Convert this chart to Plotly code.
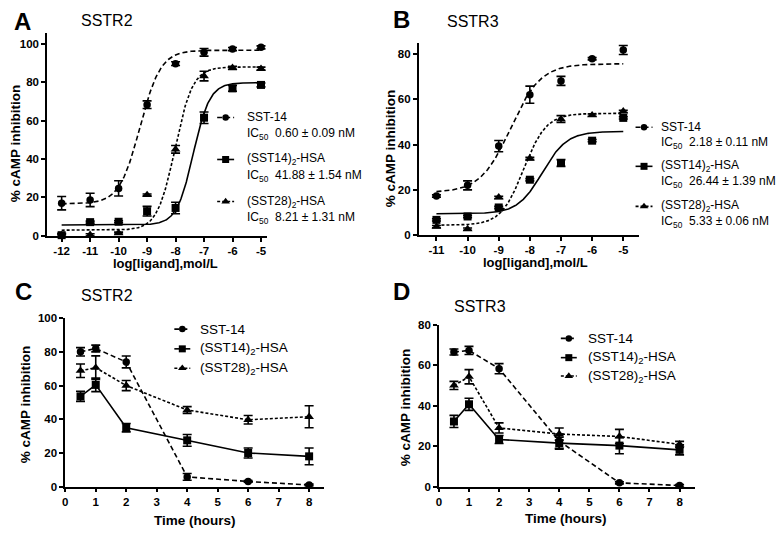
import numpy as np
import plotly.graph_objects as go

W, H = 778, 536
FONT = "Liberation Sans"

# ------------------------------------------------------------------ data
series_names = ["SST-14", "(SST14)<sub>2</sub>-HSA", "(SST28)<sub>2</sub>-HSA"]
ic50_A = ["0.60 ± 0.09 nM", "41.88 ± 1.54 nM", "8.21 ± 1.31 nM"]
ic50_B = ["2.18 ± 0.11 nM", "26.44 ± 1.39 nM", "5.33 ± 0.06 nM"]

# Panel A  (SSTR2, dose response)
logA = [-12, -11, -10, -9, -8, -7, -6, -5]
A_sst14 = [17.0, 18.7, 24.7, 68.4, 89.8, 95.7, 97.4, 98.3]
A_sst14_err = [3.5, 3.5, 4.0, 2.0, 1.0, 2.0, 0.8, 0.8]
A_sst14hsa = [0.3, 7.1, 7.3, 12.8, 14.5, 61.6, 76.9, 78.7]
A_sst14hsa_err = [1.0, 0.5, 0.5, 2.5, 3.0, 3.0, 1.5, 1.0]
A_sst28hsa = [0.2, 0.5, 1.4, 21.3, 45.1, 83.3, 87.6, 87.2]
A_sst28hsa_err = [0.5, 0.5, 0.5, 0.5, 2.0, 2.5, 0.8, 0.8]
# fitted curves: bottom, top, logIC50, hill slope
A_sst14_fit = [16.6, 96.8, -9.25, 1.2]
A_sst14hsa_fit = [5.6, 79.9, -7.38, 1.5]
A_sst28hsa_fit = [2.9, 88.1, -8.02, 1.4]

# Panel B  (SSTR3, dose response)
logB = [-11, -10, -9, -8, -7, -6, -5]
B_sst14 = [17.2, 21.9, 39.3, 62.1, 68.2, 78.0, 81.9]
B_sst14_err = [0.5, 2.0, 2.5, 3.8, 2.0, 0.5, 2.0]
B_sst14hsa = [6.6, 8.1, 12.1, 24.4, 31.8, 41.7, 51.8]
B_sst14hsa_err = [0.5, 0.5, 0.5, 0.5, 1.5, 0.5, 0.5]
B_sst28hsa = [3.6, 2.5, 16.6, 33.8, 51.3, 53.0, 54.7]
B_sst28hsa_err = [0.5, 0.5, 0.5, 0.5, 1.5, 0.5, 0.5]
B_sst14_fit = [18.7, 75.8, -8.62, 0.9]
B_sst14hsa_fit = [9.3, 45.8, -7.60, 1.1]
B_sst28hsa_fit = [4.2, 53.8, -8.20, 1.2]

# Panels C / D (time course)
hours = [0.5, 1, 2, 4, 6, 8]
C_sst14 = [80.0, 82.0, 74.0, 5.8, 3.1, 1.0]
C_sst14_err = [2.5, 2.0, 3.5, 2.0, 0.5, 0.5]
C_sst14hsa = [53.6, 60.4, 35.0, 27.5, 20.0, 18.0]
C_sst14hsa_err = [3.0, 4.0, 2.5, 3.5, 3.0, 5.0]
C_sst28hsa = [68.8, 70.6, 60.0, 45.5, 39.7, 41.5]
C_sst28hsa_err = [4.0, 7.0, 3.0, 2.0, 2.5, 6.5]

D_sst14 = [66.5, 67.3, 58.3, 22.5, 1.9, 0.6]
D_sst14_err = [1.5, 2.0, 2.5, 3.5, 0.5, 0.5]
D_sst14hsa = [32.2, 40.7, 23.3, 21.5, 20.3, 18.2]
D_sst14hsa_err = [3.0, 3.0, 2.0, 3.0, 4.0, 2.5]
D_sst28hsa = [50.0, 54.3, 29.0, 26.0, 24.8, 20.9]
D_sst28hsa_err = [2.0, 3.5, 2.5, 3.0, 3.5, 1.5]

xtickA = [-12, -11, -10, -9, -8, -7, -6, -5]
xtickA_text = ["-12", "-11", "-10", "-9", "-8", "-7", "-6", "-5"]
xtickB = [-11, -10, -9, -8, -7, -6, -5]
xtickB_text = ["-11", "-10", "-9", "-8", "-7", "-6", "-5"]
xtickT = [0, 1, 2, 3, 4, 5, 6, 7, 8]
ytick100 = [0, 20, 40, 60, 80, 100]
ytick80 = [0, 20, 40, 60, 80]

# ------------------------------------------------------------------ styles
symbols = ["circle", "square", "triangle-up"]
msizes = [7.5, 8, 8.5]
dashes = ["5px,3px", "solid", "3px,2px"]
LW = 1.6


def px(x):
    return x / W


def py(y):
    return 1 - y / H


def logistic(x, p):
    b, t, m, h = p
    return b + (t - b) / (1 + 10 ** (h * (m - x)))


fig = go.Figure()

err_style = dict(type="data", color="black", thickness=1.6, width=4.5)


def add_points(x, y, err, i, xa, ya, mode="markers"):
    tr = dict(
        x=x, y=y, mode=mode, xaxis=xa, yaxis=ya, showlegend=False,
        marker=dict(symbol=symbols[i], size=msizes[i], color="black"),
        error_y=dict(array=err, **err_style), cliponaxis=False,
    )
    if "lines" in mode:
        tr["line"] = dict(color="black", width=LW, dash=dashes[i])
    fig.add_trace(go.Scatter(**tr))


def add_curve(xs, p, i, xa, ya):
    ys = logistic(xs, p)
    fig.add_trace(go.Scatter(x=xs, y=ys, mode="lines", xaxis=xa, yaxis=ya,
                             showlegend=False, hoverinfo="skip",
                             line=dict(color="black", width=LW, dash=dashes[i])))


# Panel A
xsA = np.linspace(min(logA), max(logA), 300)
for i, (d, e, f) in enumerate([(A_sst14, A_sst14_err, A_sst14_fit),
                               (A_sst14hsa, A_sst14hsa_err, A_sst14hsa_fit),
                               (A_sst28hsa, A_sst28hsa_err, A_sst28hsa_fit)]):
    add_curve(xsA, f, i, "x", "y")
    add_points(logA, d, e, i, "x", "y")

# Panel B
xsB = np.linspace(min(logB), max(logB), 300)
for i, (d, e, f) in enumerate([(B_sst14, B_sst14_err, B_sst14_fit),
                               (B_sst14hsa, B_sst14hsa_err, B_sst14hsa_fit),
                               (B_sst28hsa, B_sst28hsa_err, B_sst28hsa_fit)]):
    add_curve(xsB, f, i, "x2", "y2")
    add_points(logB, d, e, i, "x2", "y2")

# Panel C
for i, (d, e) in enumerate([(C_sst14, C_sst14_err), (C_sst14hsa, C_sst14hsa_err), (C_sst28hsa, C_sst28hsa_err)]):
    add_points(hours, d, e, i, "x3", "y3", mode="lines+markers")

# Panel D
for i, (d, e) in enumerate([(D_sst14, D_sst14_err), (D_sst14hsa, D_sst14hsa_err), (D_sst28hsa, D_sst28hsa_err)]):
    add_points(hours, d, e, i, "x4", "y4", mode="lines+markers")

# ------------------------------------------------------------------ legends (overlay pixel axis)
annotations = []


def text(x, y, s, size=12, bold=False, xanchor="left", yanchor="middle", angle=0):
    annotations.append(dict(
        x=px(x), y=py(y), xref="paper", yref="paper", text=s, showarrow=False,
        xanchor=xanchor, yanchor=yanchor, textangle=angle,
        font=dict(family=FONT, size=size, color="black", weight="bold" if bold else "normal")))


def legend_key(x0, x1, y, i):
    fig.add_trace(go.Scatter(x=[x0, x1], y=[y, y], mode="lines", xaxis="x5", yaxis="y5",
                             showlegend=False, hoverinfo="skip",
                             line=dict(color="black", width=LW, dash=dashes[i])))
    fig.add_trace(go.Scatter(x=[(x0 + x1) / 2], y=[y], mode="markers", xaxis="x5", yaxis="y5",
                             showlegend=False, hoverinfo="skip",
                             marker=dict(symbol=symbols[i], size=msizes[i] - 1, color="black")))


NB = "\u00a0"
# A legend
rowsA = [114, 157, 200]
for i, r in enumerate(rowsA):
    legend_key(215, 232, r, i)
    text(243, r, series_names[i], 12)
    text(243, r + 17, "IC<sub>50</sub>" + NB + NB + ic50_A[i], 12)
# B legend
rowsB = [124, 164, 205]
for i, r in enumerate(rowsB):
    legend_key(635, 652, r, i)
    text(659, r, series_names[i], 12)
    text(659, r + 16, "IC<sub>50</sub>" + NB + NB + ic50_B[i], 12)
# C legend
rowsC = [330.5, 350.7, 370.5]
for i, r in enumerate(rowsC):
    legend_key(172, 188, r, i)
    text(196, r, series_names[i], 13.5)
# D legend
rowsD = [340, 359.7, 378.5]
for i, r in enumerate(rowsD):
    legend_key(560, 576, r, i)
    text(585, r, series_names[i], 13.5)

# panel letters and titles
text(9, 15.5, "A", 24, True)
text(389, 13.5, "B", 24, True)
text(10, 291.7, "C", 24, True)
text(389, 291.7, "D", 24, True)
text(76, 15, "SSTR2", 16)
text(444, 15.8, "SSTR3", 16)
text(76, 296, "SSTR2", 16)
text(451, 307.5, "SSTR3", 16)

# axis titles
text(12.5, 140, "% cAMP inhibition", 13.5, True, "center", "middle", -90)
text(163, 263, "log[ligand],mol/L", 13, True, "center", "middle")
text(389, 146, "% cAMP inhibition", 13.5, True, "center", "middle", -90)
text(535, 262.5, "log[ligand],mol/L", 13, True, "center", "middle")
text(22, 407.5, "% cAMP inhibition", 13.5, True, "center", "middle", -90)
text(192.5, 526, "Time (hours)", 13.5, True, "center", "middle")
text(404, 410, "% cAMP inhibition", 13.5, True, "center", "middle", -90)
text(565.5, 524.5, "Time (hours)", 13.5, True, "center", "middle")


# ------------------------------------------------------------------ axes
def ax(domain, rng, tickvals, ticktext=None, anchor=None):
    d = dict(domain=domain, range=rng, tickmode="array", tickvals=tickvals,
             ticktext=ticktext if ticktext is not None else [str(v) for v in tickvals],
             showline=True, linecolor="black", linewidth=1.6, ticks="outside",
             ticklen=4, tickwidth=1.5, tickcolor="black", showgrid=False, zeroline=False,
             tickfont=dict(family=FONT, size=11.5, color="black", weight="bold"),
             fixedrange=True, anchor=anchor)
    return d


layout = dict(
    width=W, height=H, autosize=False, margin=dict(l=0, r=0, t=0, b=0),
    paper_bgcolor="white", plot_bgcolor="rgba(0,0,0,0)", showlegend=False,
    annotations=annotations,
    xaxis=ax([px(44.3), px(265)], [-12.51, -4.79], xtickA, xtickA_text, "y"),
    yaxis=ax([py(235), py(28)], [0, 105.6], ytick100, None, "x"),
    xaxis2=ax([px(417.3), px(638.3)], [-11.57, -4.5], xtickB, xtickB_text, "y2"),
    yaxis2=ax([py(234), py(38.3)], [0, 84.8], ytick80, None, "x2"),
    xaxis3=ax([px(62.5), px(322.6)], [0, 8.5], xtickT, None, "y3"),
    yaxis3=ax([py(491.7), py(319.3)], [0, 100], ytick100, None, "x3"),
    xaxis4=ax([px(437.6), px(694.3)], [0, 8.5], xtickT, None, "y4"),
    yaxis4=ax([py(491.7), py(326)], [0, 80], ytick80, None, "x4"),
    xaxis5=dict(domain=[0, 1], range=[0, W], visible=False, fixedrange=True, anchor="y5"),
    yaxis5=dict(domain=[0, 1], range=[H, 0], visible=False, fixedrange=True, anchor="x5"),
)
fig.update_layout(**layout)
fig.write_html("out.html", config={"displayModeBar": False},
               post_script="document.body.style.margin='0';")
